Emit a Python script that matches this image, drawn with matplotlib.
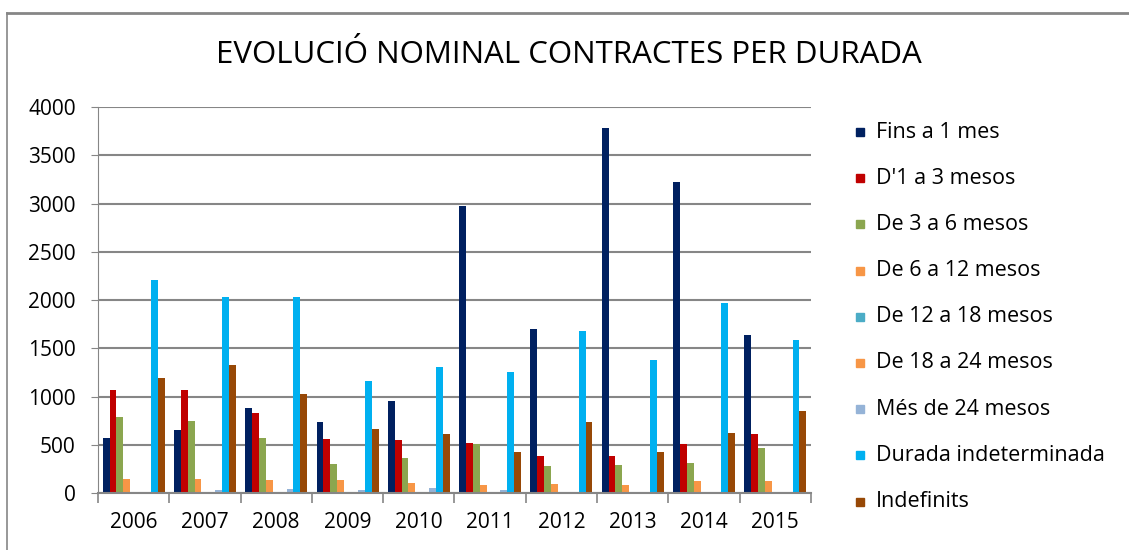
import numpy as np
import matplotlib.pyplot as plt
from matplotlib.lines import Line2D
from matplotlib.patches import Rectangle

plt.rcParams['font.family'] = ['Open Sans', 'DejaVu Sans']

years = ['2006', '2007', '2008', '2009', '2010', '2011', '2012', '2013', '2014', '2015']

series = ['Fins a 1 mes', "D'1 a 3 mesos", 'De 3 a 6 mesos', 'De 6 a 12 mesos',
          'De 12 a 18 mesos', 'De 18 a 24 mesos', 'Més de 24 mesos',
          'Durada indeterminada', 'Indefinits']

fins_1_mes = [570, 653, 880, 736, 953, 2970, 1700, 3780, 3220, 1640]
de_1_a_3 = [1067, 1067, 829, 560, 549, 518, 383, 383, 508, 611]
de_3_a_6 = [787, 746, 570, 300, 363, 508, 280, 290, 311, 466]
de_6_a_12 = [145, 145, 135, 135, 104, 83, 93, 83, 124, 124]
de_12_a_18 = [0, 0, 0, 0, 0, 0, 0, 0, 0, 0]
de_18_a_24 = [0, 0, 0, 0, 0, 0, 0, 0, 0, 0]
mes_de_24 = [10, 35, 45, 30, 55, 31, 10, 0, 0, 0]
indeterminada = [2210, 2030, 2035, 1165, 1310, 1255, 1680, 1380, 1970, 1590]
indefinits = [1190, 1330, 1026, 663, 611, 425, 736, 425, 622, 850]

values = [fins_1_mes, de_1_a_3, de_3_a_6, de_6_a_12, de_12_a_18, de_18_a_24,
          mes_de_24, indeterminada, indefinits]
colors = ['#002060', '#C00000', '#8BA64F', '#F79646', '#4BACC6', '#F79646',
          '#95B3D7', '#00B0F0', '#974806']

fig = plt.figure(figsize=(11.29, 5.5), dpi=100)
ax = fig.add_axes([0.0868, 0.1036, 0.6315, 0.7018])

x = np.arange(len(years))
n = len(series)
w = 0.87 / n
for i, (vals, c) in enumerate(zip(values, colors)):
    ax.bar(x - 0.435 + w * (i + 0.5), vals, width=w, color=c, linewidth=0)

ax.set_xlim(-0.5, len(years) - 0.5)
ax.set_ylim(0, 4000)
ax.set_yticks(range(0, 4001, 500))
ax.yaxis.grid(True, color='#868686', linewidth=1.5)
ax.set_axisbelow(True)
for s in ['top', 'right']:
    ax.spines[s].set_visible(False)
ax.spines['left'].set_color('#868686')
ax.spines['bottom'].set_color('#868686')
ax.spines['bottom'].set_linewidth(1.5)
ax.tick_params(axis='y', length=5, color='#868686', labelsize=15, pad=11)
ax.set_xticks(x)
ax.set_xticklabels(years, fontsize=15)
ax.tick_params(axis='x', length=0, pad=14)
ax.set_xticks(np.arange(-0.5, len(years)), minor=True)
ax.tick_params(axis='x', which='minor', length=7, color='#868686', width=1.2)

fig.text(0.504, 0.9, 'EVOLUCIÓ NOMINAL CONTRACTES PER DURADA', ha='center', va='center',
         fontsize=22.5)

# legend
for i, (name, c) in enumerate(zip(series, colors)):
    ypx = 132 + i * 46.2
    fig.patches.append(Rectangle((856 / 1129, 1 - (ypx + 4) / 550), 8 / 1129, 8 / 550,
                                 transform=fig.transFigure, color=c))
    fig.text(876 / 1129, 1 - ypx / 550, name, fontsize=15.5, va='center', ha='left')

# outer border
fig.add_artist(Line2D([7 / 1129, 7 / 1129], [0, 1 - 13 / 550], color='#868686', linewidth=1.2))
fig.add_artist(Line2D([7 / 1129, 1], [1 - 13 / 550, 1 - 13 / 550], color='#868686', linewidth=2))

fig.savefig('out.png', dpi=100)
